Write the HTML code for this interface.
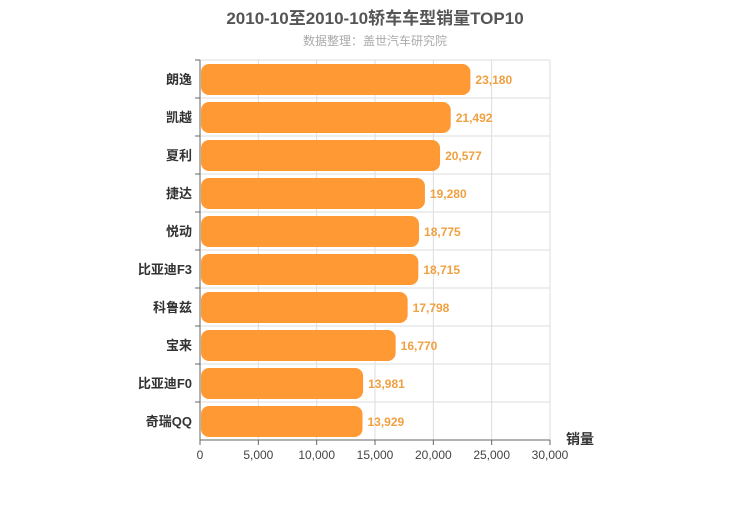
<!DOCTYPE html>
<html><head><meta charset="utf-8"><style>
body{margin:0;background:#fff;width:750px;height:500px;overflow:hidden}
svg text{font-family:"Liberation Sans","Noto Sans CJK SC",sans-serif}
</style></head><body>
<svg id="c" width="750" height="500">
<text x="375" y="24" text-anchor="middle" font-size="17" font-weight="bold" fill="#555">2010-10至2010-10轿车车型销量TOP10</text>
<text x="375" y="45" text-anchor="middle" font-size="12" fill="#aaa">数据整理：盖世汽车研究院</text>
<g id="grid"></g><g id="bars"></g><g id="axes"></g>
<text x="580" y="444" text-anchor="middle" font-size="14" font-weight="bold" fill="#333">销量</text>
</svg>
<script>
const categories=["朗逸","凯越","夏利","捷达","悦动","比亚迪F3","科鲁兹","宝来","比亚迪F0","奇瑞QQ"];
const values=[23180,21492,20577,19280,18775,18715,17798,16770,13981,13929];
const ticks=[0,5000,10000,15000,20000,25000,30000];
const X0=200,X1=550,Y0=60,RH=38,MAX=30000;
const x=v=>X0+v/MAX*(X1-X0);
const y=i=>Y0+i*RH;
const ns="http://www.w3.org/2000/svg";
function mk(p,t,a){const e=document.createElementNS(ns,t);for(const k in a)e.setAttribute(k,a[k]);p.appendChild(e);return e;}
const grid=document.getElementById('grid'),bars=document.getElementById('bars'),axes=document.getElementById('axes');
const fmt=v=>v.toLocaleString('en-US');
ticks.forEach(t=>{
 if(t>0){const l=mk(grid,'line',{x1:x(t),x2:x(t),y1:Y0,y2:y(categories.length),stroke:'#ddd'});
 
 }
 const tk=mk(axes,'line',{x1:x(t),x2:x(t),y1:y(categories.length),y2:y(categories.length)+5,stroke:'#666'});
 
 
 const tl=mk(axes,'text',{x:x(t),y:y(categories.length)+19,'text-anchor':'middle','font-size':12,fill:'#444'});
 tl.textContent=fmt(t);
 
 
});
categories.forEach((c,i)=>{
 const gl=mk(grid,'line',{x1:X0,x2:X1,y1:y(i),y2:y(i),stroke:'#ddd'});
 
 
 const tk=mk(axes,'line',{x1:X0-5,x2:X0,y1:y(i),y2:y(i),stroke:'#666'});
 
 
 const b=mk(bars,'rect',{x:X0+1,y:y(i)+4,width:x(values[i])-X0-1,height:RH-7,rx:8,fill:'#ff9933'});
 
 
 const v=mk(bars,'text',{x:x(values[i])+5,y:y(i)+RH/2+5,'font-size':12,'font-weight':'bold',fill:'#f0a040'});
 v.textContent=fmt(values[i]);
 
 
 const cl=mk(axes,'text',{x:X0-8,y:y(i)+RH/2+5,'text-anchor':'end','font-size':13,'font-weight':'bold',fill:'#333'});
 cl.textContent=c;
 
 
});
const ya=mk(axes,'line',{x1:X0,x2:X0,y1:Y0,y2:y(categories.length),stroke:'#666'});


const xa=mk(axes,'line',{x1:X0,x2:X1,y1:y(categories.length),y2:y(categories.length),stroke:'#666'});


</script>
</body></html>
